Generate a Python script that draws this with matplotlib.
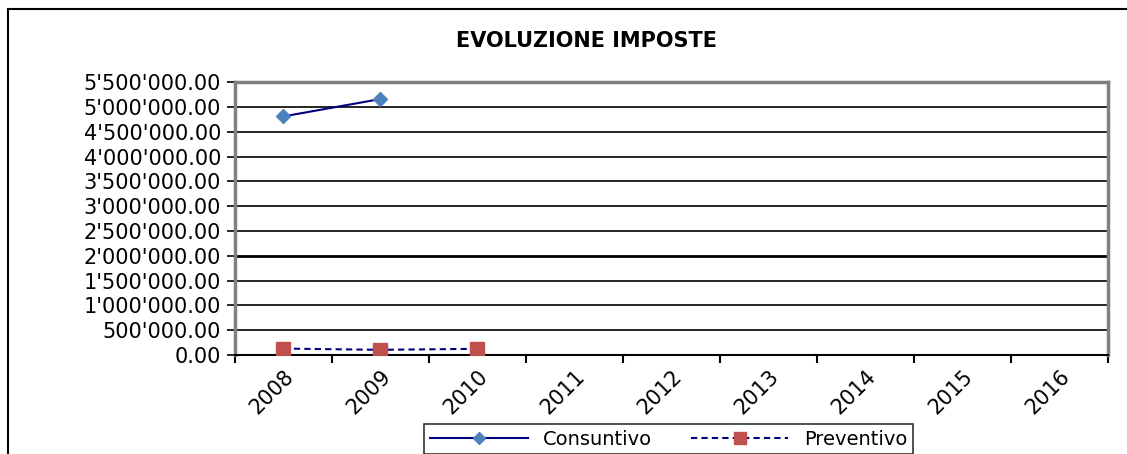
import matplotlib.pyplot as plt
from matplotlib.ticker import FuncFormatter
from matplotlib.lines import Line2D

years = ["2008", "2009", "2010", "2011", "2012", "2013", "2014", "2015", "2016"]
consuntivo = [4810000, 5160000]
preventivo = [130000, 105000, 125000]
yticks = [0, 500000, 1000000, 1500000, 2000000, 2500000, 3000000,
          3500000, 4000000, 4500000, 5000000, 5500000]


def fmt(v, pos=None):
    s = "{:,.2f}".format(v)
    return s.replace(",", "'")


plt.rcParams['font.family'] = ['DejaVu Sans']

fig = plt.figure(figsize=(11.27, 4.54), dpi=100)
ax = fig.add_axes([0.2085, 0.218, 0.7745, 0.601])

x = list(range(len(years)))
ax.plot(x[:len(consuntivo)], consuntivo, color="#000080", lw=1.5,
        marker="D", ms=7, mfc="#4F81BD", mec="#4F81BD", label="Consuntivo", zorder=3)
ax.plot(x[:len(preventivo)], preventivo, color="#000080", lw=1.5, ls=(0, (3, 2)),
        marker="s", ms=10, mfc="#C0504D", mec="#C0504D", label="Preventivo", zorder=3)

ax.set_xlim(-0.5, len(years) - 0.5)
ax.set_ylim(0, 5500000)
ax.set_yticks(yticks)
ax.yaxis.set_major_formatter(FuncFormatter(fmt))
for t in yticks[1:-1]:
    ax.axhline(t, color="black", lw=2 if t == 2000000 else 1.2, zorder=1)

ax.set_xticks([i + 0.5 for i in range(-1, len(years))], minor=True)
ax.set_xticks(x)
ax.set_xticklabels(years, rotation=45, ha="right", rotation_mode="anchor")
ax.tick_params(axis="x", which="major", length=0, labelsize=15, pad=8)
ax.tick_params(axis="x", which="minor", length=6, width=1.5, color="black")
ax.tick_params(axis="y", length=6, width=1.2, color="black", labelsize=15, pad=4)

for side in ["top", "right", "left", "bottom"]:
    ax.spines[side].set_color("#808080")
    ax.spines[side].set_linewidth(2.5)
ax.spines["bottom"].set_color("black")
ax.spines["bottom"].set_linewidth(1.5)

fig.text(0.52, 0.91, "EVOLUZIONE IMPOSTE", ha="center", va="center",
         fontsize=15, fontweight="bold")

handles = [
    Line2D([], [], color="#000080", lw=1.5, marker="D", ms=6, mfc="#4F81BD", mec="#4F81BD"),
    Line2D([], [], color="#000080", lw=1.5, ls=(0, (3, 2)), marker="s", ms=8,
           mfc="#C0504D", mec="#C0504D"),
]
leg = fig.legend(handles, ["Consuntivo", "Preventivo"], loc="upper left",
                 bbox_to_anchor=(0.368, 0.088), ncol=2, frameon=True, fancybox=False,
                 fontsize=14, handlelength=5.0, columnspacing=2.0, borderpad=0.3)
leg.get_frame().set_edgecolor("black")
leg.get_frame().set_linewidth(1.2)

fig.add_artist(Line2D([0.007, 0.007], [0.0, 0.98], color="black", lw=1.5,
                      transform=fig.transFigure))
fig.add_artist(Line2D([0.007, 1.0], [0.98, 0.98], color="black", lw=1.5,
                      transform=fig.transFigure))

fig.savefig("out.png", dpi=100)
